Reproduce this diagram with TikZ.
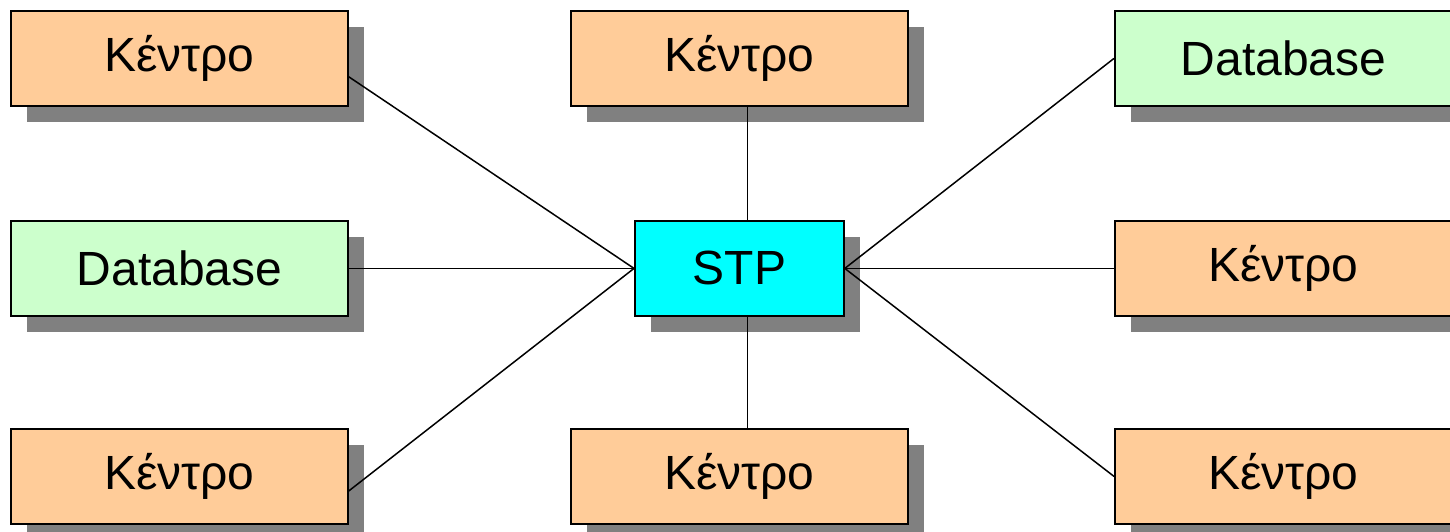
\documentclass[tikz,border=0pt]{standalone}
\usepackage{fontspec}
\setmainfont{Liberation Sans}
\usetikzlibrary{shadows,calc}
\definecolor{peach}{HTML}{FFCC99}
\definecolor{mint}{HTML}{CCFFCC}
\definecolor{aqua}{HTML}{00FFFF}
\definecolor{shade}{HTML}{808080}
\begin{document}
\begin{tikzpicture}[x=0.5pt,y=-0.5pt,
  box/.style={draw=black,line width=0.9pt,inner sep=0pt,anchor=north west,
    minimum width=168.5pt,minimum height=47.5pt,font=\fontsize{24}{28}\selectfont,
    drop shadow={shadow xshift=8pt,shadow yshift=-8pt,fill=shade,opacity=1}},
  kbox/.style={box,fill=peach},
  dbox/.style={box,fill=mint},
  sbox/.style={box,fill=aqua,minimum width=104.5pt},
  link/.style={line width=0.75pt,draw=black}]
\useasboundingbox (0,0) rectangle (1450,531);
\clip (0,0) rectangle (1450,531);
\fill[white] (0,0) rectangle (1450,531);
% boxes
\node[kbox] (tl) at (10,10) {Κέντρο};
\node[dbox] (ml) at (10,220) {Database};
\node[kbox] (bl) at (10,428) {Κέντρο};
\node[kbox] (tm) at (570,10) {Κέντρο};
\node[kbox] (bm) at (570,428) {Κέντρο};
\node[sbox] (stp) at (634,220) {STP};
\node[dbox] (tr) at (1114,10) {Database};
\node[kbox] (mr) at (1114,220) {Κέντρο};
\node[kbox] (br) at (1114,428) {Κέντρο};
% connectors
\coordinate (tlc) at ($(tl.north east)!0.69!(tl.south east)$);
\coordinate (blc) at ($(bl.north east)!0.65!(bl.south east)$);
\draw[link] (tlc) -- (stp.west);
\draw[link] (ml.east) -- (stp.west);
\draw[link] (blc) -- (stp.west);
\draw[link] ([xshift=4pt]tm.south) -- ([xshift=4pt]stp.north);
\draw[link] ([xshift=4pt]stp.south) -- ([xshift=4pt]bm.north);
\draw[link] (stp.east) -- (tr.west);
\draw[link] (stp.east) -- (mr.west);
\draw[link] (stp.east) -- (br.west);
\end{tikzpicture}
\end{document}
